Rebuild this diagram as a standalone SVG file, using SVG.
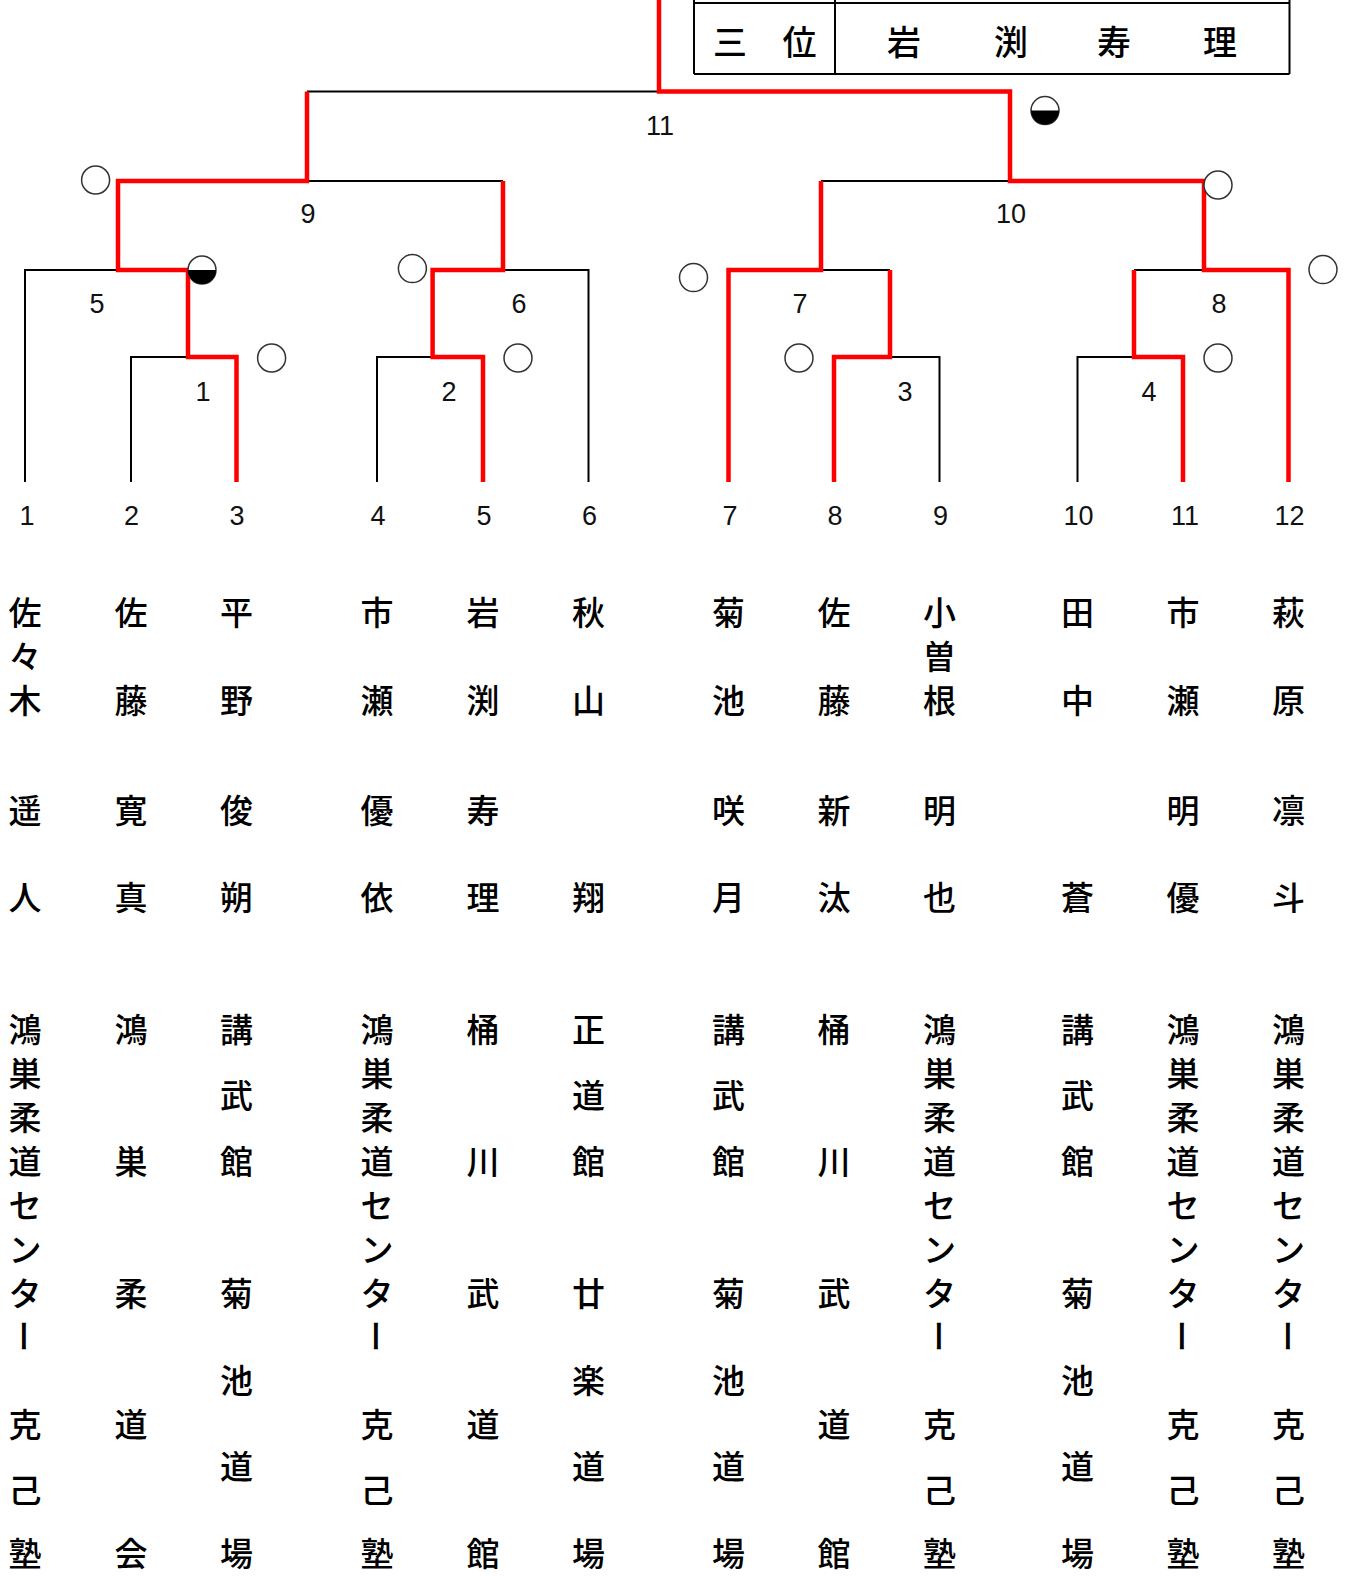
<svg xmlns="http://www.w3.org/2000/svg" width="1354" height="1577" viewBox="0 0 1354 1577">
<style>
.b{fill:none;stroke:#000;stroke-width:2;stroke-linejoin:miter}
.r{fill:none;stroke:#ff0000;stroke-width:4.5;stroke-linejoin:miter;stroke-linecap:butt}
.c{fill:#fff;stroke:#333;stroke-width:1.5}
.h{fill:#000}
.n{font-family:"Liberation Sans",Arial,sans-serif;font-size:27px;fill:#111;text-anchor:middle;dominant-baseline:central}
.j{font-family:"Noto Sans CJK JP","Noto Sans CJK SC",sans-serif;font-size:33px;font-weight:500;fill:#000;text-anchor:middle;dominant-baseline:central}
</style>
<rect width="1354" height="1577" fill="#fff"/>

<g id="third-place">
<path class="b" d="M694,0V74M835,0V74M1289.5,0V74M694,3H1289.5M694,74H1289.5"/>
<text class="j" style="font-size:34px"><tspan x="730" y="40">三</tspan><tspan x="799.5" y="40">位</tspan><tspan x="904" y="40">岩</tspan><tspan x="1011" y="40">渕</tspan><tspan x="1114" y="40">寿</tspan><tspan x="1220" y="40">理</tspan></text>
</g>

<g id="connectors">
<path class="b" d="M25,482V270H118"/>
<path class="b" d="M131,482V357H188"/>
<path class="b" d="M307,181H503"/>
<path class="b" d="M307,91.5H659"/>
<path class="b" d="M377,482V357H432.6"/>
<path class="b" d="M503,270H588.5V482"/>
<path class="b" d="M890,357H939.5V482"/>
<path class="b" d="M821,270H890"/>
<path class="b" d="M821,181H1010"/>
<path class="b" d="M1077.5,482V357H1134"/>
<path class="b" d="M1134,270H1204"/>
<path class="r" d="M236.5,482V357H188V270H118V181H307V91.5"/>
<path class="r" d="M483,482V357H432.6V270H503V181"/>
<path class="r" d="M728.5,482V270H821V181"/>
<path class="r" d="M834,482V357H890V270"/>
<path class="r" d="M1183,482V357H1134V270"/>
<path class="r" d="M1288.5,482V270H1204V181H1010V91.5H659V0"/>
</g>

<g id="match-1"><text class="n" x="203" y="392">1</text><circle class="c" cx="271.6" cy="358" r="14"/></g>
<g id="match-2"><text class="n" x="449" y="392">2</text><circle class="c" cx="518" cy="358" r="14"/></g>
<g id="match-3"><text class="n" x="905" y="392">3</text><circle class="c" cx="799" cy="358" r="14"/></g>
<g id="match-4"><text class="n" x="1149" y="392">4</text><circle class="c" cx="1218" cy="358" r="14"/></g>
<g id="match-5"><text class="n" x="97" y="304">5</text><circle class="c" cx="202" cy="270" r="14"/><path class="h" d="M188,270A14,14 0 0 0 216,270Z"/></g>
<g id="match-6"><text class="n" x="519" y="304">6</text><circle class="c" cx="412.4" cy="268.6" r="14"/></g>
<g id="match-7"><text class="n" x="800" y="304">7</text><circle class="c" cx="693.5" cy="277.6" r="14"/></g>
<g id="match-8"><text class="n" x="1219" y="304">8</text><circle class="c" cx="1323" cy="269.6" r="14"/></g>
<g id="match-9"><text class="n" x="308" y="214">9</text><circle class="c" cx="95.6" cy="180" r="14"/></g>
<g id="match-10"><text class="n" x="1011" y="214">10</text><circle class="c" cx="1218" cy="185" r="14"/></g>
<g id="match-11"><text class="n" x="660" y="126">11</text><circle class="c" cx="1045" cy="110.6" r="14"/><path class="h" d="M1031,110.6A14,14 0 0 0 1059,110.6Z"/></g>

<g id="player-1">
<text class="n" x="27" y="516">1</text>
<text class="j"><tspan x="25" y="611">佐</tspan><tspan x="25" y="655">々</tspan><tspan x="25" y="699">木</tspan><tspan x="25" y="809">遥</tspan><tspan x="25" y="896">人</tspan></text>
<text class="j"><tspan x="25" y="1028">鴻</tspan><tspan x="25" y="1072">巣</tspan><tspan x="25" y="1116">柔</tspan><tspan x="25" y="1160">道</tspan><tspan x="25" y="1204">セ</tspan><tspan x="25" y="1248">ン</tspan><tspan x="25" y="1292">タ</tspan><tspan x="25" y="1423">克</tspan><tspan x="25" y="1489">己</tspan><tspan x="25" y="1552">塾</tspan></text>
<text class="j" transform="rotate(90 25 1336)" x="25" y="1336">ー</text>
</g>
<g id="player-2">
<text class="n" x="131.5" y="516">2</text>
<text class="j"><tspan x="131" y="611">佐</tspan><tspan x="131" y="699">藤</tspan><tspan x="131" y="809">寛</tspan><tspan x="131" y="896">真</tspan></text>
<text class="j"><tspan x="131" y="1028">鴻</tspan><tspan x="131" y="1160">巣</tspan><tspan x="131" y="1292">柔</tspan><tspan x="131" y="1423">道</tspan><tspan x="131" y="1552">会</tspan></text>
</g>
<g id="player-3">
<text class="n" x="237" y="516">3</text>
<text class="j"><tspan x="236.5" y="611">平</tspan><tspan x="236.5" y="699">野</tspan><tspan x="236.5" y="809">俊</tspan><tspan x="236.5" y="896">朔</tspan></text>
<text class="j"><tspan x="236.5" y="1028">講</tspan><tspan x="236.5" y="1094">武</tspan><tspan x="236.5" y="1160">館</tspan><tspan x="236.5" y="1292">菊</tspan><tspan x="236.5" y="1379">池</tspan><tspan x="236.5" y="1465">道</tspan><tspan x="236.5" y="1552">場</tspan></text>
</g>
<g id="player-4">
<text class="n" x="378" y="516">4</text>
<text class="j"><tspan x="377" y="611">市</tspan><tspan x="377" y="699">瀬</tspan><tspan x="377" y="809">優</tspan><tspan x="377" y="896">依</tspan></text>
<text class="j"><tspan x="377" y="1028">鴻</tspan><tspan x="377" y="1072">巣</tspan><tspan x="377" y="1116">柔</tspan><tspan x="377" y="1160">道</tspan><tspan x="377" y="1204">セ</tspan><tspan x="377" y="1248">ン</tspan><tspan x="377" y="1292">タ</tspan><tspan x="377" y="1423">克</tspan><tspan x="377" y="1489">己</tspan><tspan x="377" y="1552">塾</tspan></text>
<text class="j" transform="rotate(90 377 1336)" x="377" y="1336">ー</text>
</g>
<g id="player-5">
<text class="n" x="484" y="516">5</text>
<text class="j"><tspan x="483" y="611">岩</tspan><tspan x="483" y="699">渕</tspan><tspan x="483" y="809">寿</tspan><tspan x="483" y="896">理</tspan></text>
<text class="j"><tspan x="483" y="1028">桶</tspan><tspan x="483" y="1160">川</tspan><tspan x="483" y="1292">武</tspan><tspan x="483" y="1423">道</tspan><tspan x="483" y="1552">館</tspan></text>
</g>
<g id="player-6">
<text class="n" x="589.5" y="516">6</text>
<text class="j"><tspan x="588.5" y="611">秋</tspan><tspan x="588.5" y="699">山</tspan><tspan x="588.5" y="896">翔</tspan></text>
<text class="j"><tspan x="588.5" y="1028">正</tspan><tspan x="588.5" y="1094">道</tspan><tspan x="588.5" y="1160">館</tspan><tspan x="588.5" y="1292">廿</tspan><tspan x="588.5" y="1379">楽</tspan><tspan x="588.5" y="1465">道</tspan><tspan x="588.5" y="1552">場</tspan></text>
</g>
<g id="player-7">
<text class="n" x="730" y="516">7</text>
<text class="j"><tspan x="728.5" y="611">菊</tspan><tspan x="728.5" y="699">池</tspan><tspan x="728.5" y="809">咲</tspan><tspan x="728.5" y="896">月</tspan></text>
<text class="j"><tspan x="728.5" y="1028">講</tspan><tspan x="728.5" y="1094">武</tspan><tspan x="728.5" y="1160">館</tspan><tspan x="728.5" y="1292">菊</tspan><tspan x="728.5" y="1379">池</tspan><tspan x="728.5" y="1465">道</tspan><tspan x="728.5" y="1552">場</tspan></text>
</g>
<g id="player-8">
<text class="n" x="835" y="516">8</text>
<text class="j"><tspan x="834" y="611">佐</tspan><tspan x="834" y="699">藤</tspan><tspan x="834" y="809">新</tspan><tspan x="834" y="896">汰</tspan></text>
<text class="j"><tspan x="834" y="1028">桶</tspan><tspan x="834" y="1160">川</tspan><tspan x="834" y="1292">武</tspan><tspan x="834" y="1423">道</tspan><tspan x="834" y="1552">館</tspan></text>
</g>
<g id="player-9">
<text class="n" x="940.5" y="516">9</text>
<text class="j"><tspan x="939.5" y="611">小</tspan><tspan x="939.5" y="655">曽</tspan><tspan x="939.5" y="699">根</tspan><tspan x="939.5" y="809">明</tspan><tspan x="939.5" y="896">也</tspan></text>
<text class="j"><tspan x="939.5" y="1028">鴻</tspan><tspan x="939.5" y="1072">巣</tspan><tspan x="939.5" y="1116">柔</tspan><tspan x="939.5" y="1160">道</tspan><tspan x="939.5" y="1204">セ</tspan><tspan x="939.5" y="1248">ン</tspan><tspan x="939.5" y="1292">タ</tspan><tspan x="939.5" y="1423">克</tspan><tspan x="939.5" y="1489">己</tspan><tspan x="939.5" y="1552">塾</tspan></text>
<text class="j" transform="rotate(90 939.5 1336)" x="939.5" y="1336">ー</text>
</g>
<g id="player-10">
<text class="n" x="1078.5" y="516">10</text>
<text class="j"><tspan x="1077.5" y="611">田</tspan><tspan x="1077.5" y="699">中</tspan><tspan x="1077.5" y="896">蒼</tspan></text>
<text class="j"><tspan x="1077.5" y="1028">講</tspan><tspan x="1077.5" y="1094">武</tspan><tspan x="1077.5" y="1160">館</tspan><tspan x="1077.5" y="1292">菊</tspan><tspan x="1077.5" y="1379">池</tspan><tspan x="1077.5" y="1465">道</tspan><tspan x="1077.5" y="1552">場</tspan></text>
</g>
<g id="player-11">
<text class="n" x="1185" y="516">11</text>
<text class="j"><tspan x="1183" y="611">市</tspan><tspan x="1183" y="699">瀬</tspan><tspan x="1183" y="809">明</tspan><tspan x="1183" y="896">優</tspan></text>
<text class="j"><tspan x="1183" y="1028">鴻</tspan><tspan x="1183" y="1072">巣</tspan><tspan x="1183" y="1116">柔</tspan><tspan x="1183" y="1160">道</tspan><tspan x="1183" y="1204">セ</tspan><tspan x="1183" y="1248">ン</tspan><tspan x="1183" y="1292">タ</tspan><tspan x="1183" y="1423">克</tspan><tspan x="1183" y="1489">己</tspan><tspan x="1183" y="1552">塾</tspan></text>
<text class="j" transform="rotate(90 1183 1336)" x="1183" y="1336">ー</text>
</g>
<g id="player-12">
<text class="n" x="1289.5" y="516">12</text>
<text class="j"><tspan x="1288.5" y="611">萩</tspan><tspan x="1288.5" y="699">原</tspan><tspan x="1288.5" y="809">凛</tspan><tspan x="1288.5" y="896">斗</tspan></text>
<text class="j"><tspan x="1288.5" y="1028">鴻</tspan><tspan x="1288.5" y="1072">巣</tspan><tspan x="1288.5" y="1116">柔</tspan><tspan x="1288.5" y="1160">道</tspan><tspan x="1288.5" y="1204">セ</tspan><tspan x="1288.5" y="1248">ン</tspan><tspan x="1288.5" y="1292">タ</tspan><tspan x="1288.5" y="1423">克</tspan><tspan x="1288.5" y="1489">己</tspan><tspan x="1288.5" y="1552">塾</tspan></text>
<text class="j" transform="rotate(90 1288.5 1336)" x="1288.5" y="1336">ー</text>
</g>
</svg>
